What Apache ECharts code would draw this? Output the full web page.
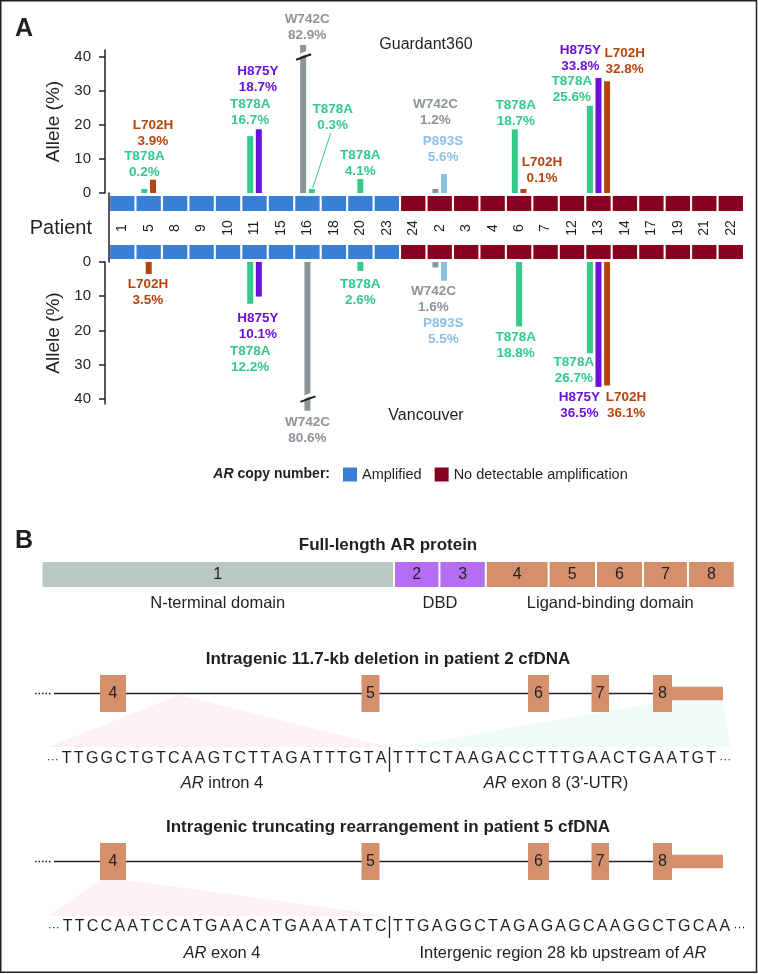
<!DOCTYPE html>
<html>
<head>
<meta charset="utf-8">
<script src="https://cdn.jsdelivr.net/npm/echarts@6/dist/echarts.min.js"></script>
<style>html,body{margin:0;padding:0;background:#fff;}#c{width:758px;height:974px;}</style>
</head>
<body>
<div id="c"></div>
<script>
// ---------------- DATA ----------------
const patients = ['1','5','8','9','10','11','15','16','18','20','23','24','2','3','4','6','7','12','13','14','17','19','21','22'];
const amplifiedPatients = ['1','5','8','9','10','11','15','16','18','20','23'];
const mutationNames = ['T878A','H875Y','L702H','W742C','P893S'];

const guardantPatient  = ['5','5','11','11','16','16','20','2','2','6','6','13','13','13'];
const guardantMutation = ['T878A','L702H','T878A','H875Y','W742C','T878A','T878A','W742C','P893S','T878A','L702H','T878A','H875Y','L702H'];
const guardantValue    = [0.2, 3.9, 16.7, 18.7, 82.9, 0.3, 4.1, 1.2, 5.6, 18.7, 0.1, 25.6, 33.8, 32.8];

const vancouverPatient  = ['5','11','11','16','20','2','2','6','13','13','13'];
const vancouverMutation = ['L702H','T878A','H875Y','W742C','T878A','W742C','P893S','T878A','T878A','H875Y','L702H'];
const vancouverValue    = [3.5, 12.2, 10.1, 80.6, 2.6, 1.6, 5.5, 18.8, 26.7, 36.5, 36.1];

const alleleTicks = [0, 10, 20, 30, 40];

// Panel B schematic (diagram units)
const proteinExons = ['1','2','3','4','5','6','7','8'];
const proteinExonWidth = [352.5, 45.4, 46.4, 62.8, 47.4, 47, 45, 46.8];
const proteinDomains = ['N-terminal domain','DBD','Ligand-binding domain'];
const proteinExonDomain = [0,1,1,2,2,2,2,2];

const geneExons = ['4','5','6','7','8'];
const geneExonStart = [100, 361.5, 528, 591.5, 653];
const geneExonEnd   = [126, 379.5, 549, 609, 672];
const geneUtrEnd = 723;
const geneLineStart = 54;
const geneDotStart = 35;

const seqDeletionLeft  = 'TTGGCTGTCAAGTCTTAGATTTGTA';
const seqDeletionRight = 'TTTCTAAGACCTTTGAACTGAATGT';
const seqTruncLeft     = 'TTCCAATCCATGAACATGAAATATC';
const seqTruncRight    = 'TTGAGGCTAGAGAGCAAGGCTGCAA';

// ---------------- STYLE ----------------
const FONT = "'Liberation Sans', Arial, Helvetica, sans-serif";
const INK = '#231f20';
const BLUE = '#3a7fd6';
const RED = '#870022';
const mutColors = ['#35c98b', '#6b10dd', '#b5450f', '#8b9497', '#8cc1e5'];
const domainColors = ['#bac8c3', '#b46ef1', '#d48f6c'];
const EXON = '#d48f6c';

const CAP = 43.5, BREAK_AT = 40, SLOT = 8.6, BAR_W = 6, MIN_H = 4;
// label nudges [dx, dy(from bar end), leader]
const nudgeUp = [[0,-25],[0,-46],[0,-24],[-1,-50],[4,-18],[21,-72,1],[0,-16],[0,-77],[-1,-25],[1,-16],[18.6,-19],[-18,-17],[-18,-20],[17.6,-20]];
const nudgeLow = [[-0.7,18],[0,56],[-1,29.5],[0,19],[0,21],[-2,32],[-0.7,50.5],[-3.4,19],[-16,17],[-19,18],[19,19.5]];

function buildItems(pts, muts, vals) {
  const counts = {}, pos = [];
  pts.forEach(p => { counts[p] = counts[p] || 0; pos.push(counts[p]); counts[p]++; });
  return pts.map((p, i) => [patients.indexOf(p), vals[i], pos[i], counts[p], mutationNames.indexOf(muts[i])]);
}

function makeRender(lower, nudges) {
  return function (params, api) {
    const i = params.dataIndex;
    const idx = api.value(0), v = api.value(1), k = api.value(2), n = api.value(3), m = api.value(4);
    const base = api.coord([idx, 0]);
    const tip = api.coord([idx, Math.min(v, CAP)]);
    const cx = base[0] + (k - (n - 1) / 2) * SLOT;
    const sgn = lower ? 1 : -1;
    let endY = tip[1];
    if (Math.abs(endY - base[1]) < MIN_H) endY = base[1] + sgn * MIN_H;
    const color = mutColors[m];
    const children = [{
      type: 'rect',
      shape: { x: cx - BAR_W / 2, y: Math.min(base[1], endY), width: BAR_W, height: Math.abs(endY - base[1]) },
      style: { fill: color }
    }];
    if (v > CAP) {
      const b = api.coord([idx, BREAK_AT])[1];
      children.push({ type: 'line', shape: { x1: cx - 5, y1: b - 1, x2: cx + 5, y2: b - 5 }, style: { stroke: '#fff', lineWidth: 3 } });
      children.push({ type: 'line', shape: { x1: cx - 7, y1: b + 3, x2: cx + 8, y2: b - 2.5 }, style: { stroke: INK, lineWidth: 2 } });
    }
    const nd = nudges[i];
    const lx = cx + nd[0], ly = endY + nd[1];
    children.push({
      type: 'text',
      style: {
        text: mutationNames[m] + '\n' + v.toFixed(1) + '%',
        x: lx, y: ly, fill: color,
        fontSize: 13.5, fontWeight: 'bold', fontFamily: FONT,
        align: 'center', verticalAlign: 'middle', lineHeight: 16
      }
    });
    if (nd[2]) {
      children.push({ type: 'line', shape: { x1: lx - 2, y1: ly + 16, x2: cx + 1, y2: endY - 1 }, style: { stroke: color, lineWidth: 1 } });
    }
    return { type: 'group', children };
  };
}

const ampSet = new Set(amplifiedPatients);
const bandAmp = patients.map(p => ampSet.has(p) ? 1 : '-');
const bandNo = patients.map(p => ampSet.has(p) ? '-' : 1);

// protein segments
let acc = 0;
const proteinItems = proteinExonWidth.map((w, i) => { const s = acc; acc += w; return [s, acc, i, proteinExonDomain[i]]; });
const protTotal = acc;
const domainItems = proteinDomains.map((d, di) => {
  const its = proteinItems.filter(it => it[3] === di);
  return [its[0][0], its[its.length - 1][1] - 2, di];
});
const geneItems = geneExons.map((g, i) => [geneExonStart[i], geneExonEnd[i], i]);

function geneSeries(ax) {
  return [
    {
      type: 'custom', xAxisIndex: ax, yAxisIndex: ax, z: 3,
      data: [[geneDotStart, geneLineStart, geneExonEnd[geneExonEnd.length - 1]]],
      encode: { x: [0, 1, 2] },
      renderItem: (params, api) => {
        const a = api.coord([api.value(0), 0.5]), b = api.coord([api.value(1), 0.5]), c = api.coord([api.value(2), 0.5]);
        return { type: 'group', children: [
          { type: 'line', shape: { x1: a[0], y1: a[1], x2: b[0] - 1.5, y2: b[1] }, style: { stroke: INK, lineWidth: 1.5, lineDash: [1.5, 2] } },
          { type: 'line', shape: { x1: b[0], y1: b[1], x2: c[0], y2: c[1] }, style: { stroke: INK, lineWidth: 1.5 } }
        ] };
      }
    },
    {
      type: 'custom', xAxisIndex: ax, yAxisIndex: ax, z: 4,
      data: [[geneExonEnd[geneExonEnd.length - 1], geneUtrEnd]],
      encode: { x: [0, 1] },
      renderItem: (params, api) => {
        const p1 = api.coord([api.value(0), 0.68]), p2 = api.coord([api.value(1), 0.32]);
        return { type: 'rect', shape: { x: p1[0] - 0.5, y: p1[1], width: p2[0] - p1[0] + 0.5, height: p2[1] - p1[1] }, style: { fill: EXON } };
      }
    },
    {
      type: 'custom', xAxisIndex: ax, yAxisIndex: ax, z: 5,
      data: geneItems,
      encode: { x: [0, 1] },
      renderItem: (params, api) => {
        const p1 = api.coord([api.value(0), 1]), p2 = api.coord([api.value(1), 0]);
        return { type: 'group', children: [
          { type: 'rect', shape: { x: p1[0], y: p1[1], width: p2[0] - p1[0], height: p2[1] - p1[1] }, style: { fill: EXON } },
          { type: 'text', style: { text: geneExons[api.value(2)], x: (p1[0] + p2[0]) / 2, y: (p1[1] + p2[1]) / 2, fill: INK, fontSize: 16, fontFamily: FONT, align: 'center', verticalAlign: 'middle' } }
        ] };
      }
    }
  ];
}

// ---------------- GRAPHIC TEXT ----------------
function txt(x, y, text, o) {
  const st = Object.assign({ text, fill: INK, fontSize: 16, fontFamily: FONT, align: 'center', verticalAlign: 'middle', textAlign: 'center', textVerticalAlign: 'middle' }, o || {});
  if (o && o.align) st.textAlign = o.align;
  return { type: 'text', x, y, z: 20, style: st };
}
const mctx = document.createElement('canvas').getContext('2d');
const SEQ_FS = 16, TRACK = 2.27;
mctx.font = SEQ_FS + 'px "Liberation Sans", Arial, sans-serif';
function seqEls(left, right, sepX, y) {
  const els = [];
  const lw = left.split('').map(c => mctx.measureText(c).width);
  const total = lw.reduce((a, b) => a + b, 0) + TRACK * (left.length - 1);
  let x = sepX - 3 - total;
  els.push(txt(x - 9, y + 1, '\u00b7\u00b7\u00b7', { fontSize: 12 }));
  left.split('').forEach((c, i) => { els.push(txt(x, y, c, { fontSize: SEQ_FS, align: 'left' })); x += lw[i] + TRACK; });
  x = sepX + 3.5;
  right.split('').forEach(c => { const w = mctx.measureText(c).width; els.push(txt(x, y, c, { fontSize: SEQ_FS, align: 'left' })); x += w + TRACK; });
  els.push(txt(x + 7, y + 1, '\u00b7\u00b7\u00b7', { fontSize: 12 }));
  return els;
}
function rich(x, y, text, fs, align) {
  return { type: 'text', x, y, z: 20, style: {
    text, fill: INK, fontSize: fs, fontFamily: FONT, align: align || 'center', textAlign: align || 'center', verticalAlign: 'middle', textVerticalAlign: 'middle',
    rich: { i: { fontStyle: 'italic', fontSize: fs, fontFamily: FONT, fill: INK } }
  } };
}

const graphics = [
  { type: 'rect', z: 30, shape: { x: 0.75, y: 0.75, width: 755.75, height: 971.5 }, style: { fill: 'none', stroke: INK, lineWidth: 1.5 } },
  txt(24, 29, 'A', { fontSize: 25, fontWeight: 'bold' }),
  txt(426, 45, 'Guardant360', { fontSize: 16 }),
  txt(426, 416, 'Vancouver', { fontSize: 16 }),
  txt(92, 228, 'Patient', { fontSize: 20, align: 'right' }),
  { type: 'text', x: 330, y: 474, z: 20, style: {
    text: '{i|AR} copy number:', fill: INK, fontSize: 14, fontWeight: 'bold', fontFamily: FONT,
    align: 'right', textAlign: 'right', verticalAlign: 'middle', textVerticalAlign: 'middle',
    rich: { i: { fontStyle: 'italic', fontWeight: 'bold', fontSize: 14, fontFamily: FONT, fill: INK } } } },
  txt(24, 541, 'B', { fontSize: 25, fontWeight: 'bold' }),
  txt(388, 545, 'Full-length AR protein', { fontSize: 17, fontWeight: 'bold' }),
  txt(388, 659, 'Intragenic 11.7-kb deletion in patient 2 cfDNA', { fontSize: 17, fontWeight: 'bold' }),
  txt(388, 827, 'Intragenic truncating rearrangement in patient 5 cfDNA', { fontSize: 17, fontWeight: 'bold' }),
  { type: 'polygon', z: 0, shape: { points: [[179, 695], [389, 747], [48, 747]] }, style: { fill: 'rgba(248,200,214,0.25)' } },
  { type: 'polygon', z: 0, shape: { points: [[672, 700], [723, 700], [730, 747], [401, 747]] }, style: { fill: 'rgba(195,238,222,0.25)' } },
  { type: 'polygon', z: 0, shape: { points: [[100, 880], [126, 880], [389, 916], [48, 916]] }, style: { fill: 'rgba(248,200,214,0.25)' } },
  { type: 'line', z: 20, shape: { x1: 389.5, y1: 747, x2: 389.5, y2: 772 }, style: { stroke: INK, lineWidth: 1.3 } },
  { type: 'line', z: 20, shape: { x1: 389.5, y1: 916, x2: 389.5, y2: 938 }, style: { stroke: INK, lineWidth: 1.3 } },
  rich(222, 783, '{i|AR} intron 4', 16.5),
  rich(556, 783, "{i|AR} exon 8 (3'-UTR)", 16.5),
  rich(222, 953, '{i|AR} exon 4', 16.5),
  rich(563, 953, 'Intergenic region 28 kb upstream of {i|AR}', 16.5)
].concat(seqEls(seqDeletionLeft, seqDeletionRight, 389.5, 759), seqEls(seqTruncLeft, seqTruncRight, 389.5, 927));

// ---------------- OPTION ----------------
const axisCommon = {
  type: 'value', offset: 4, splitLine: { show: false },
  axisLine: { show: true, lineStyle: { color: INK, width: 1.5 } },
  axisTick: { show: true, length: 6, customValues: alleleTicks, lineStyle: { color: INK, width: 1.5 } },
  axisLabel: { customValues: alleleTicks, fontSize: 15, margin: 14, color: INK, fontFamily: FONT },
  name: 'Allele (%)', nameLocation: 'middle', nameGap: 38, nameRotate: 90,
  nameTextStyle: { fontSize: 19, color: INK, fontFamily: FONT }
};
const hiddenVal = (g, max) => ({ gridIndex: g, type: 'value', show: false, min: 0, max: max });

const option = {
  animation: false,
  textStyle: { fontFamily: FONT },
  grid: [
    { left: 109, right: 14, top: 50, height: 143 },
    { left: 109, right: 14, top: 196, height: 15 },
    { left: 109, right: 14, top: 245, height: 14 },
    { left: 109, right: 14, top: 262, height: 142 },
    { left: 109, right: 14, top: 193, height: 69 },
    { left: 42.5, right: 758 - 42.5 - protTotal, top: 562, height: 25 },
    { left: 0, right: 0, top: 675, height: 37 },
    { left: 0, right: 0, top: 843, height: 37 }
  ],
  xAxis: [
    { gridIndex: 0, type: 'category', data: patients, show: false },
    { gridIndex: 1, type: 'category', data: patients, axisLine: { show: false }, axisTick: { show: false },
      axisLabel: { interval: 0, rotate: 90, margin: 17, fontSize: 14, color: INK, align: 'center', verticalAlign: 'middle', fontFamily: FONT } },
    { gridIndex: 2, type: 'category', data: patients, show: false },
    { gridIndex: 3, type: 'category', data: patients, show: false },
    hiddenVal(4, 1),
    hiddenVal(5, protTotal),
    hiddenVal(6, 758),
    hiddenVal(7, 758)
  ],
  yAxis: [
    Object.assign({ gridIndex: 0, min: 0, max: 42 }, axisCommon),
    hiddenVal(1, 1),
    hiddenVal(2, 1),
    Object.assign({ gridIndex: 3, min: 0, max: 41.5, inverse: true }, axisCommon),
    { gridIndex: 4, type: 'value', min: 0, max: 1, offset: 4, splitLine: { show: false },
      axisLine: { show: true, lineStyle: { color: INK, width: 1.5 } }, axisTick: { show: false }, axisLabel: { show: false } },
    hiddenVal(5, 1),
    hiddenVal(6, 1),
    hiddenVal(7, 1)
  ],
  legend: {
    data: ['Amplified', 'No detectable amplification'], left: 343, top: 467, padding: 0,
    itemWidth: 14, itemHeight: 14, itemGap: 13, icon: 'rect', selectedMode: false,
    textStyle: { fontSize: 14.5, color: INK, fontFamily: FONT }
  },
  series: [
    { type: 'bar', name: 'Amplified', xAxisIndex: 1, yAxisIndex: 1, data: bandAmp, barWidth: '92%', barGap: '-100%', itemStyle: { color: BLUE } },
    { type: 'bar', name: 'No detectable amplification', xAxisIndex: 1, yAxisIndex: 1, data: bandNo, barWidth: '92%', barGap: '-100%', itemStyle: { color: RED } },
    { type: 'bar', name: 'Amplified', xAxisIndex: 2, yAxisIndex: 2, data: bandAmp, barWidth: '92%', barGap: '-100%', itemStyle: { color: BLUE } },
    { type: 'bar', name: 'No detectable amplification', xAxisIndex: 2, yAxisIndex: 2, data: bandNo, barWidth: '92%', barGap: '-100%', itemStyle: { color: RED } },
    { type: 'custom', name: 'Guardant360', xAxisIndex: 0, yAxisIndex: 0, clip: false, z: 5,
      data: buildItems(guardantPatient, guardantMutation, guardantValue), encode: { x: 0, y: 1 },
      renderItem: makeRender(false, nudgeUp) },
    { type: 'custom', name: 'Vancouver', xAxisIndex: 3, yAxisIndex: 3, clip: false, z: 5,
      data: buildItems(vancouverPatient, vancouverMutation, vancouverValue), encode: { x: 0, y: 1 },
      renderItem: makeRender(true, nudgeLow) },
    { type: 'custom', xAxisIndex: 5, yAxisIndex: 5, data: proteinItems, encode: { x: [0, 1] },
      renderItem: (params, api) => {
        const p1 = api.coord([api.value(0), 1]), p2 = api.coord([api.value(1), 0]);
        const w = p2[0] - p1[0] - 2;
        return { type: 'group', children: [
          { type: 'rect', shape: { x: p1[0], y: p1[1], width: w, height: p2[1] - p1[1] }, style: { fill: domainColors[api.value(3)] } },
          { type: 'text', style: { text: proteinExons[api.value(2)], x: p1[0] + w / 2, y: (p1[1] + p2[1]) / 2, fill: INK, fontSize: 16, fontFamily: FONT, align: 'center', verticalAlign: 'middle' } }
        ] };
      } },
    { type: 'custom', xAxisIndex: 5, yAxisIndex: 5, data: domainItems, encode: { x: [0, 1] },
      renderItem: (params, api) => {
        const p1 = api.coord([api.value(0), 0]), p2 = api.coord([api.value(1), 0]);
        return { type: 'text', style: { text: proteinDomains[api.value(2)], x: (p1[0] + p2[0]) / 2, y: p1[1] + 16, fill: INK, fontSize: 16.5, fontFamily: FONT, align: 'center', verticalAlign: 'middle' } };
      } }
  ].concat(geneSeries(6), geneSeries(7)),
  graphic: { elements: graphics }
};

const chart = echarts.init(document.getElementById('c'), null, { renderer: 'canvas', width: 758, height: 974 });
chart.setOption(option);
</script>
</body>
</html>
